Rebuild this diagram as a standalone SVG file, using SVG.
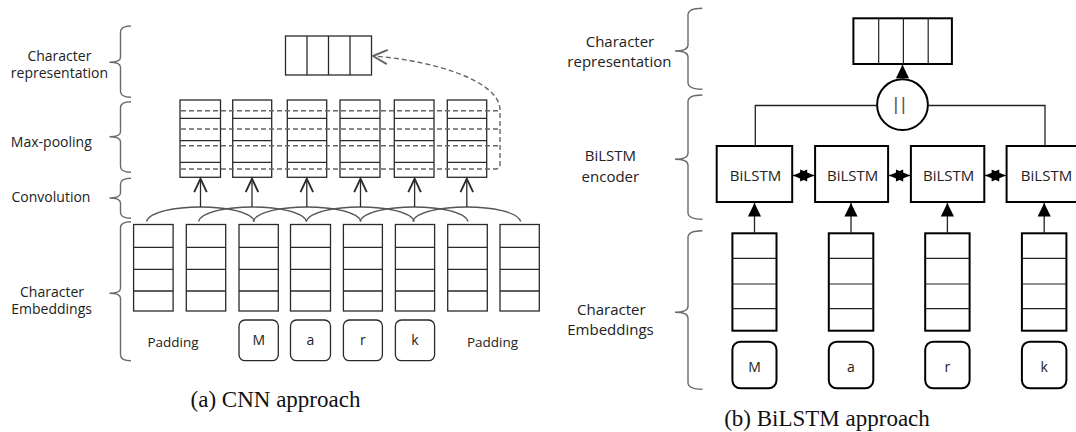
<svg xmlns="http://www.w3.org/2000/svg" width="1076" height="432" viewBox="0 0 1076 432">
<style>
.lbl{font-family:"Open Sans","Liberation Sans",sans-serif;fill:#222;text-anchor:middle}
.cap{font-family:"Liberation Serif","Times New Roman",serif;font-size:23px;fill:#111;text-anchor:middle}
.bx{fill:#fff;stroke:#2a2a2a;stroke-width:1.3}
.dv{stroke:#2a2a2a;stroke-width:1.3;fill:none}
.bxr{fill:#fff;stroke:#000;stroke-width:2}
.dvr{stroke:#222;stroke-width:1.2;fill:none}
.brace{fill:none;stroke:#6a6a6a;stroke-width:1.4}
.dash{fill:none;stroke:#666;stroke-width:1.4;stroke-dasharray:5 3}
.conv{fill:none;stroke:#555;stroke-width:1.3}
.arrL{stroke:#2a2a2a;stroke-width:1.3;fill:none;marker-end:url(#openArr)}
.arrR{stroke:#222;stroke-width:1.3;fill:none;marker-end:url(#fillArr)}
.link{stroke:#222;stroke-width:1.3;fill:none}
.bi{stroke:#000;stroke-width:1.3;fill:none;marker-start:url(#smallArr);marker-end:url(#smallArr)}
</style>
<defs>
<marker id="openArr" markerUnits="userSpaceOnUse" markerWidth="20" markerHeight="20" refX="0" refY="0" orient="auto" viewBox="-12 -6 14 12" overflow="visible">
<path d="M -9.5 -4.4 L 0 0 L -9.5 4.4" fill="none" stroke="#2a2a2a" stroke-width="1.3"/>
</marker>
<marker id="openArrG" markerUnits="userSpaceOnUse" markerWidth="20" markerHeight="20" refX="0" refY="0" orient="auto" viewBox="-12 -6 14 12" overflow="visible">
<path d="M -10 -5 L 0 0 L -10 5" fill="none" stroke="#666" stroke-width="1.4"/>
</marker>
<marker id="fillArr" markerUnits="userSpaceOnUse" markerWidth="20" markerHeight="20" refX="0" refY="0" orient="auto" viewBox="-12 -6 14 12" overflow="visible">
<path d="M -9.5 -4.6 L 0 0 L -9.5 4.6 Z" fill="#000"/>
</marker>
<marker id="smallArr" markerUnits="userSpaceOnUse" markerWidth="20" markerHeight="20" refX="0" refY="0" orient="auto-start-reverse" viewBox="-10 -5 12 10" overflow="visible">
<path d="M -8.5 -3.6 L 0 0 L -8.5 3.6 Z" fill="#000"/>
</marker>
</defs>
<rect width="1076" height="432" fill="#fff"/>

<!-- ===== (a) CNN approach ===== -->
<g id="cnn-labels">
<text class="lbl" font-size="14" x="59.4" y="60.5">Character</text>
<text class="lbl" font-size="14" x="59.4" y="77.5">representation</text>
<text class="lbl" font-size="14" x="51.3" y="146.5">Max-pooling</text>
<text class="lbl" font-size="14" x="51" y="201.7">Convolution</text>
<text class="lbl" font-size="14" x="52" y="296.7">Character</text>
<text class="lbl" font-size="14" x="51.6" y="314.3">Embeddings</text>
</g>
<g id="cnn-braces">
<path class="brace" d="M131 26 Q120.5 26 120.5 32 V57.3 Q120.5 62.3 109.5 62.3 Q120.5 62.3 120.5 67.3 V91.3 Q120.5 97.3 131 97.3"/>
<path class="brace" d="M131 101.7 Q120.5 101.7 120.5 107.7 V131.7 Q120.5 136.7 109.5 136.7 Q120.5 136.7 120.5 141.7 V166.3 Q120.5 172.3 131 172.3"/>
<path class="brace" d="M131 178.3 Q120.5 178.3 120.5 184.3 V193 Q120.5 198 109.5 198 Q120.5 198 120.5 203 V212.3 Q120.5 218.3 131 218.3"/>
<path class="brace" d="M131 221.7 Q120.5 221.7 120.5 227.7 V288.3 Q120.5 293.3 109.5 293.3 Q120.5 293.3 120.5 298.3 V354.7 Q120.5 360.7 131 360.7"/>
</g>
<g id="cnn-charrep">
<rect class="bx" x="285.5" y="36" width="86" height="39"/>
<path class="dv" d="M307 36V75M328.5 36V75M350 36V75"/>
</g>
<g id="cnn-maxpool">
<g id="mp1"><rect class="bx" x="180" y="100" width="40.5" height="77.3"/><path class="dv" d="M180 118.3H220.5M180 140.7H220.5M180 162.3H220.5"/></g>
<g id="mp2"><rect class="bx" x="232.7" y="100" width="39" height="77.3"/><path class="dv" d="M232.7 118.3H271.7M232.7 140.7H271.7M232.7 162.3H271.7"/></g>
<g id="mp3"><rect class="bx" x="287.3" y="100" width="39.4" height="77.3"/><path class="dv" d="M287.3 118.3H326.7M287.3 140.7H326.7M287.3 162.3H326.7"/></g>
<g id="mp4"><rect class="bx" x="340" y="100" width="40" height="77.3"/><path class="dv" d="M340 118.3H380M340 140.7H380M340 162.3H380"/></g>
<g id="mp5"><rect class="bx" x="394.3" y="100" width="39.7" height="77.3"/><path class="dv" d="M394.3 118.3H434M394.3 140.7H434M394.3 162.3H434"/></g>
<g id="mp6"><rect class="bx" x="447.3" y="100" width="39.4" height="77.3"/><path class="dv" d="M447.3 118.3H486.7M447.3 140.7H486.7M447.3 162.3H486.7"/></g>
</g>
<g id="cnn-embeddings">
<g id="emb1"><rect class="bx" x="133.6" y="224.5" width="39.5" height="86.5"/><path class="dv" d="M133.6 247.3H173.1M133.6 269.3H173.1M133.6 291H173.1"/></g>
<g id="emb2"><rect class="bx" x="186.3" y="224.5" width="39.4" height="86.5"/><path class="dv" d="M186.3 247.3H225.7M186.3 269.3H225.7M186.3 291H225.7"/></g>
<g id="emb3"><rect class="bx" x="239" y="224.5" width="39.3" height="86.5"/><path class="dv" d="M239 247.3H278.3M239 269.3H278.3M239 291H278.3"/></g>
<g id="emb4"><rect class="bx" x="290.5" y="224.5" width="40" height="86.5"/><path class="dv" d="M290.5 247.3H330.5M290.5 269.3H330.5M290.5 291H330.5"/></g>
<g id="emb5"><rect class="bx" x="343.4" y="224.5" width="39" height="86.5"/><path class="dv" d="M343.4 247.3H382.4M343.4 269.3H382.4M343.4 291H382.4"/></g>
<g id="emb6"><rect class="bx" x="395.4" y="224.5" width="39.2" height="86.5"/><path class="dv" d="M395.4 247.3H434.6M395.4 269.3H434.6M395.4 291H434.6"/></g>
<g id="emb7"><rect class="bx" x="447.7" y="224.5" width="39.6" height="86.5"/><path class="dv" d="M447.7 247.3H487.3M447.7 269.3H487.3M447.7 291H487.3"/></g>
<g id="emb8"><rect class="bx" x="500" y="224.5" width="39.3" height="86.5"/><path class="dv" d="M500 247.3H539.3M500 269.3H539.3M500 291H539.3"/></g>
</g>
<g id="cnn-chars">
<text class="lbl" font-size="13.5" x="173" y="346.5">Padding</text>
<g id="cM"><rect class="bx" x="239" y="320" width="39.3" height="40.7" rx="6"/><text class="lbl" font-size="14" x="258.7" y="345.3">M</text></g>
<g id="ca"><rect class="bx" x="290.5" y="320" width="40" height="40.7" rx="6"/><text class="lbl" font-size="14" x="310.5" y="345.3">a</text></g>
<g id="cr"><rect class="bx" x="343.4" y="320" width="39" height="40.7" rx="6"/><text class="lbl" font-size="14" x="362.9" y="345.3">r</text></g>
<g id="ck"><rect class="bx" x="395.4" y="320" width="39.2" height="40.7" rx="6"/><text class="lbl" font-size="14" x="415" y="345.3">k</text></g>
<text class="lbl" font-size="13.5" x="492.5" y="346.5">Padding</text>
</g>
<g id="cnn-connectors">
<path class="conv" d="M146.5 221.5C149.5 212 175 207 200.5 207C226 207 251.5 212 254.5 221.5"/>
<path class="conv" d="M198.5 221.5C201.5 212 227 207 252.5 207C278 207 303.5 212 306.5 221.5"/>
<path class="conv" d="M253 221.5C256 212 281.5 207 307 207C332.5 207 358 212 361 221.5"/>
<path class="conv" d="M306.3 221.5C309.3 212 334.8 207 360.3 207C385.8 207 411.3 212 414.3 221.5"/>
<path class="conv" d="M360 221.5C363 212 388.5 207 414 207C439.5 207 465 212 468 221.5"/>
<path class="conv" d="M412.7 221.5C415.7 212 441.2 207 466.7 207C492.2 207 517.7 212 520.7 221.5"/>
<path class="arrL" d="M200.5 207V178.6"/>
<path class="arrL" d="M252 207V178.6"/>
<path class="arrL" d="M306.8 207V178.6"/>
<path class="arrL" d="M360.5 207V178.6"/>
<path class="arrL" d="M414.6 207V178.6"/>
<path class="arrL" d="M466.8 207V178.6"/>
<path class="dash" d="M181 110.7H500M181 129H500M181 145.7H500"/>
<path class="dash" d="M181 169H495.5Q500 169 500 164.5V110C500 80 430 60 373 56" marker-end="url(#openArrG)"/>
</g>
<text class="cap" x="275.5" y="407">(a) CNN approach</text>

<!-- ===== (b) BiLSTM approach ===== -->
<g id="bilstm-labels">
<text class="lbl" font-size="15" x="620" y="46.7">Character</text>
<text class="lbl" font-size="15" x="619.4" y="66.7">representation</text>
<text class="lbl" font-size="15" x="610.4" y="161">BiLSTM</text>
<text class="lbl" font-size="15" x="610.4" y="181.7">encoder</text>
<text class="lbl" font-size="15" x="611.3" y="315">Character</text>
<text class="lbl" font-size="15" x="610.5" y="335">Embeddings</text>
</g>
<g id="bilstm-braces">
<path class="brace" d="M702.4 8.3Q688 8.3 688 15V45Q688 51 675 51Q688 51 688 57V82.6Q688 89.3 702.4 89.3"/>
<path class="brace" d="M702.4 95Q688 95 688 101.7V153.3Q688 159.3 675 159.3Q688 159.3 688 165.3V212.6Q688 219.3 702.4 219.3"/>
<path class="brace" d="M702.4 230.7Q688 230.7 688 237.4V306.3Q688 312.3 675 312.3Q688 312.3 688 318.3V382.6Q688 389.3 702.4 389.3"/>
</g>
<g id="bilstm-charrep">
<rect class="bxr" x="853.4" y="18.3" width="98.5" height="45.7"/>
<path class="dvr" d="M878.7 18.3V64M903.4 18.3V64M928.2 18.3V64"/>
</g>
<g id="concat">
<circle cx="902.5" cy="104.7" r="25.4" fill="#fff" stroke="#000" stroke-width="2"/>
<text x="893.4" y="110.2" font-family="'Liberation Sans',Arial,sans-serif" font-size="18" letter-spacing="2.9" fill="#555">||</text>
</g>
<g id="bilstm-encoders">
<g id="enc1"><rect class="bxr" x="716.7" y="146" width="75.5" height="56"/><text class="lbl" font-size="15" x="755.5" y="180.7">BiLSTM</text></g>
<g id="enc2"><rect class="bxr" x="815.1" y="146" width="73" height="56"/><text class="lbl" font-size="15" x="852.6" y="180.7">BiLSTM</text></g>
<g id="enc3"><rect class="bxr" x="910.9" y="146" width="73.4" height="56"/><text class="lbl" font-size="15" x="948.6" y="180.7">BiLSTM</text></g>
<g id="enc4"><rect class="bxr" x="1006.6" y="146" width="80" height="56"/><text class="lbl" font-size="15" x="1046.5" y="180.7">BiLSTM</text></g>
</g>
<g id="bilstm-embeddings">
<g id="remb1"><rect class="bxr" x="732.4" y="233.3" width="44.1" height="97.4"/><path class="dvr" d="M732.4 258.3H776.5M732.4 284H776.5M732.4 308.7H776.5"/></g>
<g id="remb2"><rect class="bxr" x="828.8" y="233.3" width="44.5" height="97.4"/><path class="dvr" d="M828.8 258.3H873.3M828.8 284H873.3M828.8 308.7H873.3"/></g>
<g id="remb3"><rect class="bxr" x="925.2" y="233.3" width="44.4" height="97.4"/><path class="dvr" d="M925.2 258.3H969.6M925.2 284H969.6M925.2 308.7H969.6"/></g>
<g id="remb4"><rect class="bxr" x="1021.9" y="233.3" width="44.5" height="97.4"/><path class="dvr" d="M1021.9 258.3H1066.4M1021.9 284H1066.4M1021.9 308.7H1066.4"/></g>
</g>
<g id="bilstm-chars">
<g id="rM"><rect class="bxr" x="732.4" y="341.7" width="44.1" height="46.6" rx="8"/><text class="lbl" font-size="14" x="754.5" y="371.5">M</text></g>
<g id="ra"><rect class="bxr" x="828.8" y="341.7" width="44.5" height="46.6" rx="8"/><text class="lbl" font-size="14" x="851" y="371.5">a</text></g>
<g id="rr"><rect class="bxr" x="925.2" y="341.7" width="44.4" height="46.6" rx="8"/><text class="lbl" font-size="14" x="947.4" y="371.5">r</text></g>
<g id="rk"><rect class="bxr" x="1021.9" y="341.7" width="44.5" height="46.6" rx="8"/><text class="lbl" font-size="14" x="1044.2" y="371.5">k</text></g>
</g>
<g id="bilstm-connectors">
<path class="arrR" d="M902.5 79.3V64.8"/>
<path class="link" d="M877.1 105.5H755.3V146"/>
<path class="link" d="M927.9 105.5H1045V146"/>
<path class="bi" d="M793 175.5H814.3"/>
<path class="bi" d="M889 175.5H910.1"/>
<path class="bi" d="M985.1 175.5H1005.8"/>
<path class="arrR" d="M754.5 233.3V203"/>
<path class="arrR" d="M851 233.3V203"/>
<path class="arrR" d="M947.4 233.3V203"/>
<path class="arrR" d="M1044.2 233.3V203"/>
</g>
<text class="cap" x="827" y="426">(b) BiLSTM approach</text>
</svg>
